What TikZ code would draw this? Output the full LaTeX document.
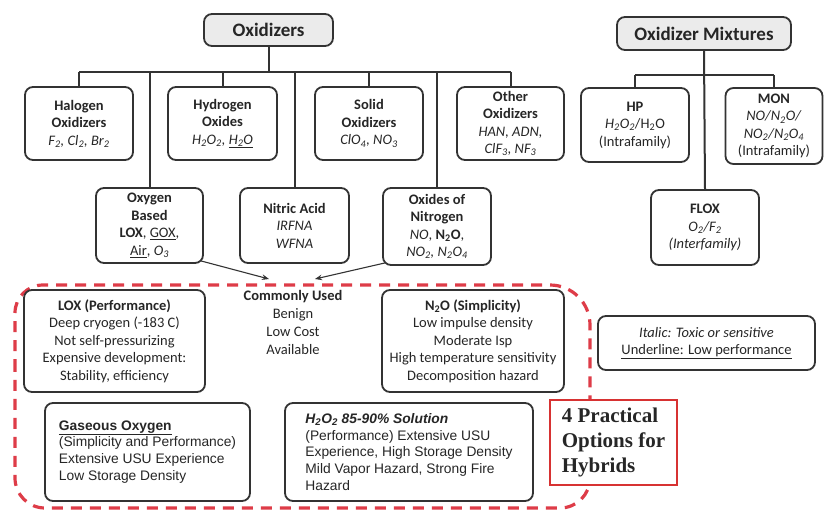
\documentclass[tikz,border=0pt]{standalone}
\usepackage{fontspec}
\setmainfont{Carlito}
\newfontfamily\arialf{Liberation Sans}
\newfontfamily\timesf{Liberation Serif}
\usetikzlibrary{arrows.meta}
\newcommand\lw[1]{\textsubscript{#1}}
\definecolor{boxc}{HTML}{333333}
\definecolor{txt}{HTML}{262626}
\definecolor{titlefill}{HTML}{EBEBEB}
\definecolor{reddash}{RGB}{222,60,72}
\definecolor{redbox}{RGB}{215,50,50}
\tikzset{
  bx/.style={draw=boxc, line width=1.8pt, rounded corners=8pt, fill=white, align=center,
    inner sep=1pt, text=txt, font=\fontsize{14.5}{17.5}\selectfont},
  titlebx/.style={bx, fill=titlefill, font=\fontsize{19}{22}\selectfont\bfseries},
  arialbx/.style={bx, align=left, font=\arialf\fontsize{13.8}{16.8}\selectfont},
  conn/.style={draw=boxc, line width=2pt},
  arr/.style={draw=boxc, line width=1.1pt, -{Stealth[length=7pt,width=5.5pt]}},
  dashreg/.style={draw=reddash, line width=3.2pt, dash pattern=on 11pt off 8pt}
}
\begin{document}
\begin{tikzpicture}[x=1pt,y=-1pt]
\useasboundingbox (0,0) rectangle (825,512);
\fill[white] (0,0) rectangle (825,512);

% red dashed region
\draw[dashreg] (15,400) [rounded corners=28pt] -- (15,285) [rounded corners=40pt] -- (590,285)
  [rounded corners=30pt] -- (590,508) -- (15,508) -- cycle;

% titles
\node[titlebx, minimum width=129pt, minimum height=32pt] (ox) at (268.5,30) {Oxidizers};
\node[titlebx, minimum width=174pt, minimum height=33pt] (mix) at (704,33.5) {Oxidizer Mixtures};

% first row
\node[bx, minimum width=108pt, minimum height=73pt] (halo) at (79,123.5)
  {\textbf{Halogen}\\\textbf{Oxidizers}\\\textit{F\lw{2}, Cl\lw{2}, Br\lw{2}}};
\node[bx, minimum width=109pt, minimum height=73pt] (hyd) at (222.5,123.5)
  {\textbf{Hydrogen}\\\textbf{Oxides}\\\textit{H\lw{2}O\lw{2}, \underline{H\lw{2}O}}};
\node[bx, minimum width=108pt, minimum height=73pt] (solid) at (369,123.5)
  {\textbf{Solid}\\\textbf{Oxidizers}\\\textit{ClO\lw{4}, NO\lw{3}}};
\node[bx, minimum width=107pt, minimum height=73pt] (other) at (510.5,123.5)
  {\textbf{Other}\\\textbf{Oxidizers}\\\textit{HAN, ADN,}\\\textit{ClF\lw{3}, NF\lw{3}}};

% mixtures row
\node[bx, minimum width=108pt, minimum height=74pt] (hp) at (635,125)
  {\textbf{HP}\\\textit{H\lw{2}O\lw{2}}/H\lw{2}O\\(Intrafamily)};
\node[bx, minimum width=97pt, minimum height=76pt] (mon) at (774,126)
  {\textbf{MON}\\\textit{NO/N\lw{2}O/}\\\textit{NO\lw{2}/N\lw{2}O\lw{4}}\\(Intrafamily)};
\node[bx, minimum width=108pt, minimum height=75pt] (flox) at (705,227.5)
  {\textbf{FLOX}\\\textit{O\lw{2}/F\lw{2}}\\\textit{(Interfamily)}};

% second row
\node[bx, minimum width=107pt, minimum height=75pt] (oxyb) at (149.5,225.5)
  {\textbf{Oxygen}\\\textbf{Based}\\\textbf{LOX}, \underline{GOX},\\\underline{Air}, \textit{O\lw{3}}};
\node[bx, minimum width=109pt, minimum height=75pt] (nitric) at (294.5,225.5)
  {\textbf{Nitric Acid}\\\textit{IRFNA}\\\textit{WFNA}};
\node[bx, minimum width=108pt, minimum height=77pt] (oxn) at (437,226.5)
  {\textbf{Oxides of}\\\textbf{Nitrogen}\\\textit{NO}, \textbf{N\lw{2}O},\\\textit{NO\lw{2}, N\lw{2}O\lw{4}}};

% connectors oxidizers
\coordinate (bus) at (269,72);
\draw[conn] (ox.south) -- (ox.south |- bus);
\draw[conn] (halo.north |- bus) -- (other.north |- bus);
\foreach \n in {halo,hyd,solid,other,oxyb,nitric,oxn}
  \draw[conn] (\n.north |- bus) -- (\n.north);

% connectors mixtures
\coordinate (mbus) at (705,75);
\draw[conn] (mix.south) -- (flox.north);
\draw[conn] (hp.north |- mbus) -- (mon.north |- mbus);
\draw[conn] (hp.north |- mbus) -- (hp.north);
\draw[conn] (mon.north |- mbus) -- (mon.north);

% commonly used
\node[align=center, text=txt, font=\fontsize{14.5}{18}\selectfont] (cu) at (293,322)
  {\textbf{Commonly Used}\\Benign\\Low Cost\\Available};
\coordinate (a1) at (269,279);
\coordinate (a2) at (315,279);
\draw[arr] ([xshift=-3pt,yshift=3pt]oxyb.south east) -- (a1);
\draw[arr] ([xshift=3pt,yshift=3pt]oxn.south west) -- (a2);

% practical options
\node[bx, minimum width=181pt, minimum height=102pt] (lox) at (114.5,341)
  {\textbf{LOX (Performance)}\\Deep cryogen (-183 C)\\Not self-pressurizing\\Expensive development:\\Stability, efficiency};
\node[bx, minimum width=182pt, minimum height=102pt] (n2o) at (473,341)
  {\textbf{N\lw{2}O (Simplicity)}\\Low impulse density\\Moderate Isp\\High temperature sensitivity\\Decomposition hazard};
\node[bx, minimum width=217pt, minimum height=54pt] (leg) at (706.5,343)
  {\textit{Italic: Toxic or sensitive}\\\underline{Underline: Low performance}};
\node[arialbx, minimum width=205pt, minimum height=98pt] (gox) at (147.5,452)
  {\textbf{\underline{Gaseous Oxygen}}\\(Simplicity and Performance)\\Extensive USU Experience\\Low Storage Density};
\node[arialbx, minimum width=248pt, minimum height=98pt] (h2o2) at (409,452)
  {\textbf{\textit{H\lw{2}O\lw{2} 85-90\% Solution}}\\(Performance) Extensive USU\\Experience, High Storage Density\\Mild Vapor Hazard, Strong Fire\\Hazard};
\node[draw=redbox, line width=1.6pt, fill=white, align=left, text=txt,
  font=\timesf\bfseries\fontsize{21}{25}\selectfont, minimum width=127pt, minimum height=85pt,
  inner sep=4pt] (four) at (613.5,442.5)
  {4 Practical\\Options for\\Hybrids};
\end{tikzpicture}
\end{document}
